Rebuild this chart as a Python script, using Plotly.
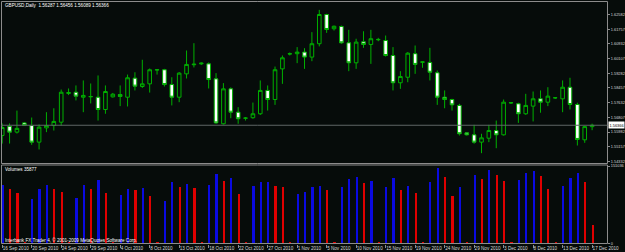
import plotly.graph_objects as go

# ---------------- data ----------------
symbol = "GBPUSD,Daily"
opens = [1.5579, 1.5631, 1.5598, 1.5650, 1.5635, 1.5542, 1.5622, 1.5635, 1.5654, 1.5815,
         1.5822, 1.5794, 1.5796, 1.5794, 1.5725, 1.5796, 1.5809, 1.5794, 1.5901, 1.5854,
         1.5869, 1.5947, 1.5948, 1.5865, 1.5794, 1.5925, 1.5976, 1.5981, 1.5981, 1.5897,
         1.5645, 1.5841, 1.5710, 1.5676, 1.5679, 1.5701, 1.5832, 1.5781, 1.5953, 1.6036,
         1.6038, 1.6047, 1.6019, 1.6094, 1.6258, 1.6178, 1.6191, 1.6099, 1.5987, 1.6105,
         1.6090, 1.6116, 1.6112, 1.6028, 1.5875, 1.5906, 1.6038, 1.5990, 1.5989, 1.5931,
         1.5794, 1.5781, 1.5748, 1.5594, 1.5583, 1.5542, 1.5564, 1.5607, 1.5583, 1.5762,
         1.5757, 1.5701, 1.5744, 1.5785, 1.5766, 1.5790, 1.5785, 1.5850, 1.5753, 1.5555,
         1.56287]
highs = [1.5647, 1.5647, 1.5719, 1.5655, 1.5680, 1.5641, 1.5710, 1.5732, 1.5837, 1.5843,
         1.5860, 1.5888, 1.5871, 1.5916, 1.5860, 1.5818, 1.5860, 1.5921, 1.5934, 1.6004,
         1.5955, 1.5952, 1.5953, 1.5906, 1.5935, 1.6056, 1.6097, 1.5989, 1.5989, 1.5929,
         1.5873, 1.5849, 1.5738, 1.5683, 1.5764, 1.5888, 1.5860, 1.5966, 1.6028, 1.6045,
         1.6075, 1.6069, 1.6159, 1.6284, 1.6262, 1.6196, 1.6196, 1.6172, 1.6122, 1.6164,
         1.6172, 1.6127, 1.6140, 1.6075, 1.5940, 1.6047, 1.6084, 1.5994, 1.6071, 1.5944,
         1.5832, 1.5785, 1.5757, 1.5599, 1.5639, 1.5589, 1.5639, 1.5663, 1.5781, 1.5767,
         1.5763, 1.5813, 1.5826, 1.5832, 1.5850, 1.5795, 1.5888, 1.5903, 1.5763, 1.5633,
         1.56456]
lows = [1.5534, 1.5534, 1.5590, 1.5633, 1.5527, 1.5501, 1.5598, 1.5607, 1.5635, 1.5806,
        1.5776, 1.5710, 1.5759, 1.5663, 1.5701, 1.5792, 1.5744, 1.5742, 1.5832, 1.5846,
        1.5820, 1.5921, 1.5854, 1.5748, 1.5766, 1.5899, 1.5961, 1.5975, 1.5843, 1.5645,
        1.5641, 1.5676, 1.5645, 1.5663, 1.5673, 1.5694, 1.5719, 1.5751, 1.5869, 1.6028,
        1.5985, 1.5953, 1.5996, 1.6079, 1.6155, 1.6168, 1.6094, 1.5940, 1.5953, 1.6071,
        1.5981, 1.6108, 1.6022, 1.5832, 1.5841, 1.5878, 1.5925, 1.5959, 1.5888, 1.5751,
        1.5732, 1.5719, 1.5579, 1.5579, 1.5533, 1.5480, 1.5542, 1.5508, 1.5579, 1.5756,
        1.5650, 1.5695, 1.5658, 1.5707, 1.5744, 1.5784, 1.5710, 1.5725, 1.5523, 1.5538,
        1.56089]
closes = [1.5624, 1.5598, 1.5619, 1.5635, 1.5542, 1.5626, 1.5635, 1.5658, 1.5822, 1.5820,
          1.5800, 1.5804, 1.5798, 1.5725, 1.5826, 1.5811, 1.5798, 1.5903, 1.5856, 1.5869,
          1.5948, 1.5948, 1.5865, 1.5794, 1.5929, 1.5978, 1.5979, 1.5985, 1.5893, 1.5650,
          1.5841, 1.5710, 1.5673, 1.5677, 1.5701, 1.5832, 1.5781, 1.5948, 1.6015, 1.6038,
          1.6047, 1.6019, 1.6094, 1.6258, 1.6174, 1.6192, 1.6099, 1.5987, 1.6103, 1.6090,
          1.6122, 1.6118, 1.6028, 1.5875, 1.5910, 1.6041, 1.5978, 1.5992, 1.5934, 1.5794,
          1.5781, 1.5751, 1.5589, 1.5583, 1.5542, 1.5566, 1.5607, 1.5583, 1.5766, 1.5763,
          1.5701, 1.5748, 1.5785, 1.5766, 1.5800, 1.5791, 1.5850, 1.5753, 1.5557, 1.5629,
          1.56366]
volumes = [114000, 105500, 97700, 3000, 86000, 106000, 115000, 106000, 99600, 2500,
           89000, 114000, 106000, 123700, 97700, 1500, 95000, 105500, 104000, 108700,
           92400, 3000, 82600, 120000, 110600, 115900, 107500, 3000, 115000, 135400,
           122300, 127600, 96300, 3000, 112000, 119200, 120400, 112000, 109400, 2500,
           96300, 100200, 110600, 112000, 104000, 2000, 109400, 125000, 130000, 117000,
           122300, 2500, 110600, 128000, 104000, 112600, 97700, 3000, 119800, 146500,
           130000, 92400, 109400, 3000, 133500, 125600, 143200, 133500, 121700, 2000,
           123700, 138000, 141300, 131500, 106000, 2000, 112600, 128000, 136800, 119800,
           35877]
date_label_bars = [0, 4, 8, 12, 16, 20, 24, 28, 32, 36, 40, 44, 48, 52, 56, 60, 64, 68, 72, 76, 80]
date_labels = ["16 Sep 2010", "20 Sep 2010", "24 Sep 2010", "29 Sep 2010", "4 Oct 2010",
               "8 Oct 2010", "13 Oct 2010", "18 Oct 2010", "22 Oct 2010", "27 Oct 2010",
               "1 Nov 2010", "5 Nov 2010", "10 Nov 2010", "15 Nov 2010", "19 Nov 2010",
               "24 Nov 2010", "29 Nov 2010", "3 Dec 2010", "8 Dec 2010", "13 Dec 2010",
               "17 Dec 2010"]
price_ticks = [1.62582, 1.61757, 1.60932, 1.60107, 1.59282, 1.58457, 1.57632,
               1.56807, 1.55982, 1.55157, 1.54332]
price_tick_labels = ["1.62582", "1.61757", "1.60932", "1.60107", "1.59282", "1.58457",
                     "1.57632", "1.56807", "1.55982", "1.55157", "1.54332"]
volume_ticks = [0, 151036]
volume_tick_labels = ["0", "151036"]
copyright_text = "Interbank FX Trader 4, \u00a9 2001-2009 MetaQuotes Software Corp."

# ---------------- style ----------------
W, H = 625, 252
BG = "#060c0a"
CANDLE = "#00b000"
FRAME = "#8c8c8c"
TXT = "#d8d8d8"
FONT = "Liberation Sans"
FS = 4.6
FS_AX = 3.9


def px_x(p):
    return p / W


def px_y(p):
    return 1 - p / H


x = list(range(len(opens)))
vol_colors = ["#0a0ae0"] + ["#e00000" if volumes[i] < volumes[i - 1] else "#0a0ae0"
                            for i in range(1, len(volumes))]

fig = go.Figure()
fig.add_trace(go.Candlestick(
    x=x, open=opens, high=highs, low=lows, close=closes,
    increasing=dict(line=dict(color=CANDLE, width=1), fillcolor=BG),
    decreasing=dict(line=dict(color=CANDLE, width=1), fillcolor="#ffffff"),
    whiskerwidth=0, xaxis="x", yaxis="y", showlegend=False, hoverinfo="skip"))
fig.add_trace(go.Bar(
    x=x, y=volumes, width=0.3, marker=dict(color=vol_colors, line=dict(width=0)),
    xaxis="x2", yaxis="y2", showlegend=False, hoverinfo="skip"))

xdom = [px_x(1.5), px_x(607)]
xrng = [-0.095, 82.02]
last = len(closes) - 1

fig.update_layout(
    width=W, height=H, margin=dict(l=0, r=0, t=0, b=0),
    paper_bgcolor=BG, plot_bgcolor=BG,
    font=dict(family=FONT, size=FS, color=TXT),
    bargap=0, boxgap=0.3,
    xaxis=dict(domain=xdom, range=xrng, anchor="y", showticklabels=False, ticks="",
               showgrid=False, zeroline=False, rangeslider=dict(visible=False)),
    xaxis2=dict(domain=xdom, range=xrng, anchor="y2", showgrid=False, zeroline=False,
                tickmode="array", tickvals=date_label_bars, ticktext=date_labels,
                tickangle=0, automargin=False,
                ticks="outside", ticklen=3, tickcolor=FRAME, tickwidth=1,
                ticklabelposition="outside right",
                tickfont=dict(family=FONT, size=FS, color=TXT)),
    yaxis=dict(domain=[px_y(163.5), px_y(1.5)], range=[1.54221, 1.63309], anchor="x",
               side="right", showgrid=False, zeroline=False, automargin=False,
               tickmode="array", tickvals=price_ticks, ticktext=price_tick_labels,
               ticks="outside", ticklen=2, tickcolor=FRAME,
               tickfont=dict(family=FONT, size=FS_AX, color=TXT)),
    yaxis2=dict(domain=[px_y(243.5), px_y(165)], range=[0, 153000], anchor="x2",
                side="right", showgrid=False, zeroline=False, automargin=False,
                tickmode="array", tickvals=volume_ticks, ticktext=volume_tick_labels,
                ticks="outside", ticklen=2, tickcolor=FRAME,
                tickfont=dict(family=FONT, size=FS_AX, color=TXT)),
    shapes=[
        dict(type="rect", xref="paper", yref="paper", x0=px_x(1.5), x1=px_x(607.5),
             y0=px_y(163.5), y1=px_y(1.5), line=dict(color=FRAME, width=1)),
        dict(type="rect", xref="paper", yref="paper", x0=px_x(1.5), x1=px_x(607.5),
             y0=px_y(243.5), y1=px_y(165), line=dict(color=FRAME, width=1)),
        dict(type="line", xref="paper", yref="y", x0=px_x(1.5), x1=px_x(607.5),
             y0=closes[last], y1=closes[last], line=dict(color="#5f6566", width=1)),
    ],
    annotations=[
        dict(xref="paper", yref="paper", x=px_x(3), y=px_y(5.5), xanchor="left",
             yanchor="middle", showarrow=False,
             text=f"{symbol}  {opens[last]:.5f} {highs[last]:.5f} {lows[last]:.5f} {closes[last]:.5f}",
             font=dict(family=FONT, size=FS, color="#ffffff")),
        dict(xref="paper", yref="paper", x=px_x(3), y=px_y(169.5), xanchor="left",
             yanchor="middle", showarrow=False, text=f"Volumes {volumes[last]}",
             font=dict(family=FONT, size=FS, color="#ffffff")),
        dict(xref="paper", yref="paper", x=px_x(3), y=px_y(239.5), xanchor="left",
             yanchor="middle", showarrow=False, text=copyright_text,
             font=dict(family=FONT, size=FS, color="#ffffff")),
        dict(xref="paper", yref="y", x=px_x(608), y=closes[last], xanchor="left",
             yanchor="middle", showarrow=False, text=f"{closes[last]:.5f}",
             bgcolor="#ffffff", borderpad=0.5,
             font=dict(family=FONT, size=FS_AX, color="#000000")),
    ],
)

fig.write_html("out.html")
